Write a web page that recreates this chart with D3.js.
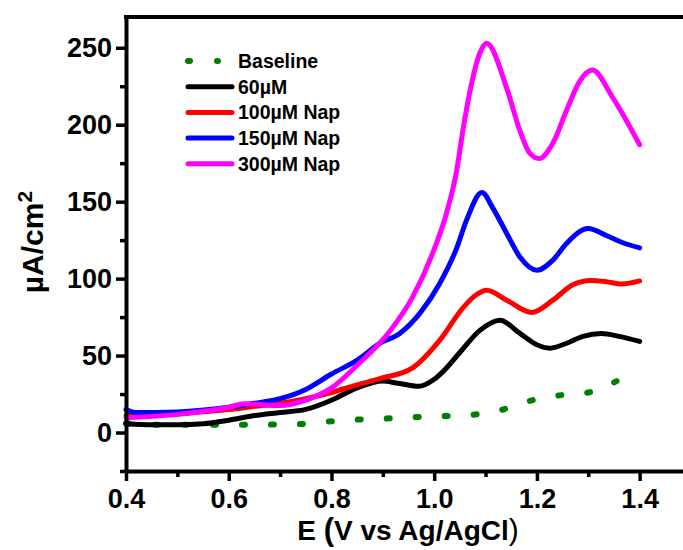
<!DOCTYPE html>
<html>
<head>
<meta charset="utf-8">
<script src="https://cdn.jsdelivr.net/npm/d3@7"></script>
<style>
  body { margin: 0; background: #fff; }
  svg { display: block; font-family: "Liberation Sans", Arial, sans-serif; }
</style>
</head>
<body>
<div id="chart"></div>
<script>
// datos (potencial en V, densidad de corriente en uA/cm2)
const baselineE = [0.40, 0.45, 0.50, 0.55, 0.60, 0.65, 0.70, 0.74, 0.80, 0.85, 0.90, 0.96, 1.02, 1.07, 1.13, 1.185, 1.24, 1.30, 1.355];
const baselineI = [6, 5, 5, 5, 5, 5, 5.3, 5.5, 7.3, 8.4, 9, 10, 10.7, 11.4, 14.6, 20.5, 24, 26, 33.4];

const e60 = [0.40, 0.45, 0.50, 0.55, 0.60, 0.65, 0.70, 0.75, 0.80, 0.85, 0.90, 0.93, 0.97, 1.00, 1.024, 1.05, 1.089, 1.128, 1.167, 1.20, 1.225, 1.258, 1.29, 1.325, 1.36, 1.40];
const i60 = [5.7, 5, 5, 5.7, 8, 11, 13, 15, 21, 29, 33.4, 32, 30, 34.6, 42, 52, 66.4, 73, 64.4, 57, 54.8, 58, 62.5, 64.3, 62.5, 59.2];

const e100 = [0.40, 0.45, 0.50, 0.55, 0.60, 0.65, 0.70, 0.75, 0.80, 0.85, 0.894, 0.958, 1.011, 1.056, 1.08, 1.102, 1.141, 1.19, 1.231, 1.27, 1.305, 1.335, 1.365, 1.40];
const i100 = [11, 11.5, 12, 13.5, 15, 17, 19, 22, 26, 31, 35, 42, 60, 81, 89, 92.4, 86, 78, 86, 96, 98.8, 98, 96.5, 98.5];

const e150 = [0.40, 0.42, 0.50, 0.60, 0.65, 0.70, 0.75, 0.80, 0.85, 0.894, 0.933, 0.972, 1.011, 1.044, 1.063, 1.093, 1.114, 1.141, 1.167, 1.20, 1.231, 1.258, 1.30, 1.335, 1.37, 1.40];
const i150 = [15, 13, 13.4, 16.4, 19, 22, 28, 38, 47, 58, 64.4, 77.4, 97, 120, 138, 156, 146, 129.5, 114, 105.4, 112, 123, 132.5, 128, 123, 120];

const e300 = [0.40, 0.50, 0.60, 0.63, 0.70, 0.75, 0.80, 0.85, 0.914, 0.958, 0.997, 1.024, 1.044, 1.056, 1.069, 1.089, 1.102, 1.141, 1.167, 1.186, 1.204, 1.231, 1.258, 1.283, 1.308, 1.347, 1.40];
const i300 = [9.6, 11.8, 16.4, 18.7, 17.5, 21, 29, 43.7, 66, 88, 116.5, 142.5, 170.5, 196.5, 220.6, 246.6, 253, 224, 196, 181.5, 178, 188, 209.5, 228, 235.5, 218, 187];

const seriesNames = ['Baseline', '60\u00b5M', '100\u00b5M Nap', '150\u00b5M Nap', '300\u00b5M Nap'];
const seriesColors = ['#008000', '#000000', '#ff0000', '#0000ff', '#ff00ff'];

const xTicks = [0.4, 0.6, 0.8, 1.0, 1.2, 1.4];
const yTicks = [0, 50, 100, 150, 200, 250];

// construir series
const series = [
  { name: seriesNames[0], color: seriesColors[0], dotted: true, E: baselineE, I: baselineI },
  { name: seriesNames[1], color: seriesColors[1], E: e60, I: i60 },
  { name: seriesNames[2], color: seriesColors[2], E: e100, I: i100 },
  { name: seriesNames[3], color: seriesColors[3], E: e150, I: i150 },
  { name: seriesNames[4], color: seriesColors[4], E: e300, I: i300 }
];

const width = 683, height = 550;
const margin = { left: 126, top: 17, right: -8, bottom: 79 };

const svg = d3.select('#chart').append('svg').attr('width', width).attr('height', height);

const x = d3.scaleLinear().domain([0.4, 1.5]).range([margin.left, width - margin.right]);
const y = d3.scaleLinear().domain([-25, 270]).range([height - margin.bottom, margin.top]);

// lineas
const line = d3.line()
  .x((d) => x(d[0]))
  .y((d) => y(d[1]))
  .curve(d3.curveMonotoneX);

const plot = svg.append('g');
series.forEach((s) => {
  const pts = s.E.map((e, i) => [e, s.I[i]]);
  const p = plot.append('path')
    .datum(pts)
    .attr('d', line)
    .attr('fill', 'none')
    .attr('stroke', s.color)
    .attr('stroke-linecap', 'round')
    .attr('stroke-linejoin', 'round');
  if (s.dotted) {
    p.attr('stroke-width', 6).attr('stroke-dasharray', '3 26');
  } else {
    p.attr('stroke-width', 5);
  }
});

// ejes
const axisStyle = (g) => {
  g.select('.domain').attr('stroke-width', 4);
  g.selectAll('.tick line').attr('stroke-width', 3.5);
  g.selectAll('.tick text').attr('font-size', 27).attr('font-weight', 'bold').attr('fill', '#000');
};

const xMinor = d3.range(0.5, 1.45, 0.2);
svg.append('g')
  .attr('transform', `translate(0,${y(-25)})`)
  .call(d3.axisBottom(x).tickValues(xTicks).tickFormat(d3.format('.1f')).tickSize(10).tickPadding(8).tickSizeOuter(0))
  .call(axisStyle);
svg.append('g')
  .attr('transform', `translate(0,${y(-25)})`)
  .call(d3.axisBottom(x).tickValues(xMinor).tickFormat('').tickSize(6).tickSizeOuter(0))
  .call((g) => { g.select('.domain').remove(); g.selectAll('.tick line').attr('stroke-width', 3.5); });

const yMinor = [-25, 25, 75, 125, 175, 225];
svg.append('g')
  .attr('transform', `translate(${x(0.4)},0)`)
  .call(d3.axisLeft(y).tickValues(yTicks).tickSize(10).tickPadding(4).tickSizeOuter(0))
  .call(axisStyle);
svg.append('g')
  .attr('transform', `translate(${x(0.4)},0)`)
  .call(d3.axisLeft(y).tickValues(yMinor).tickFormat('').tickSize(6).tickSizeOuter(0))
  .call((g) => { g.select('.domain').remove(); g.selectAll('.tick line').attr('stroke-width', 3.5); });

// borde superior
svg.append('line')
  .attr('x1', x(0.4) - 2).attr('x2', width)
  .attr('y1', y(270)).attr('y2', y(270))
  .attr('stroke', '#000').attr('stroke-width', 4);

// titulos de ejes
const xt = svg.append('text')
  .attr('x', 408).attr('y', 540)
  .attr('text-anchor', 'middle')
  .attr('font-size', 28).attr('font-weight', 'bold');
xt.append('tspan').text('E ');
xt.append('tspan').attr('font-size', 31).text('(');
xt.append('tspan').text('V vs Ag/AgCl');
xt.append('tspan').attr('font-weight', 'normal').attr('font-size', 30).text(')');

svg.append('text')
  .attr('transform', 'translate(43,242) rotate(-90)')
  .attr('text-anchor', 'middle')
  .attr('font-size', 30).attr('font-weight', 'bold')
  .text('\u00b5A/cm')
  .append('tspan').attr('font-size', 21).attr('dy', -11).text('2');

// leyenda
const legend = svg.append('g');
series.forEach((s, i) => {
  const ly = 61 + i * 25.7;
  const l = legend.append('line')
    .attr('x1', 188).attr('x2', s.dotted ? 218 : 232)
    .attr('y1', ly).attr('y2', ly)
    .attr('stroke', s.color)
    .attr('stroke-linecap', 'round');
  if (s.dotted) l.attr('stroke-width', 6).attr('stroke-dasharray', '2 27');
  else l.attr('stroke-width', 5);
  legend.append('text')
    .attr('x', 238).attr('y', ly + 7)
    .attr('font-size', 19.5).attr('font-weight', 'bold')
    .text(s.name);
});
</script>
</body>
</html>
